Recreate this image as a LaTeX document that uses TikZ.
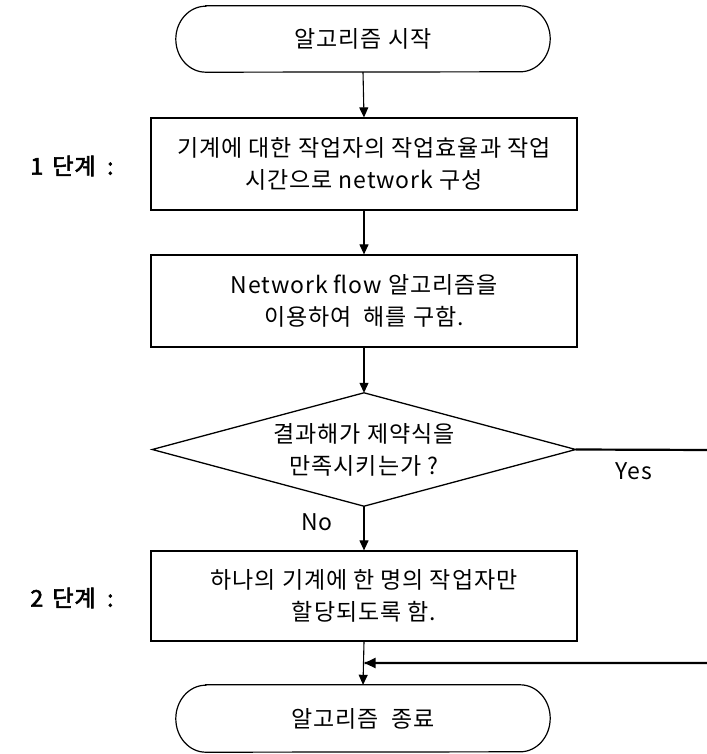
\documentclass[tikz,border=0pt]{standalone}
\usepackage{fontspec}
\setmainfont{Noto Sans CJK KR}[AutoFakeBold=2.5, LetterSpace=4]
\usetikzlibrary{arrows.meta}
\tikzset{
  box/.style={draw, line width=1.2pt, minimum width=426pt, inner sep=0pt, align=center, font=\fontsize{23}{32}\selectfont},
  term/.style={minimum width=374pt, minimum height=66pt, inner sep=0pt, font=\fontsize{23}{32}\selectfont},
  flow/.style={line width=1.1pt, -{Triangle[length=10pt,width=9pt]}},
  thick line/.style={line width=2.2pt},
  lbl/.style={font=\fontsize{23}{26}\selectfont},
  steplbl/.style={font=\bfseries\fontsize{23}{26}\selectfont}
}
\begin{document}
\begin{tikzpicture}[x=1pt,y=-1pt]
\useasboundingbox (0,0) rectangle (706,754);
% start terminal
\node[term] (start) at (363,39) {알고리즘 시작};
\draw[line width=1.2pt] ([xshift=30pt]start.north west) -- ([xshift=-30pt]start.north east)
  arc[start angle=90,end angle=-90,x radius=30pt,y radius=33pt]
  -- ([xshift=30pt]start.south west)
  arc[start angle=270,end angle=90,x radius=30pt,y radius=33pt] -- cycle;
% box 1
\node[box, minimum height=92pt] (b1) at (364,164) {기계에 대한 작업자의 작업효율과 작업\\시간으로 network 구성};
% box 2
\node[box, minimum height=92pt] (b2) at (364,301) {Network flow 알고리즘을\\이용하여 \ 해를 구함.};
% decision
\node[minimum width=423pt, minimum height=113pt, inner sep=0pt, align=center, font=\fontsize{23}{32}\selectfont] (dec) at (364,449.5) {결과해가 제약식을\\만족시키는가 ?};
\draw[line width=1.3pt] (dec.north) -- (dec.east) -- (dec.south) -- (dec.west) -- cycle;
% box 3
\node[box, minimum height=90pt] (b3) at (364,596) {하나의 기계에 한 명의 작업자만\\할당되도록 함.};
% end terminal
\node[term, minimum height=67pt] (end) at (363,718.5) {알고리즘 \ 종료};
\draw[line width=1.2pt] ([xshift=30pt]end.north west) -- ([xshift=-30pt]end.north east)
  arc[start angle=90,end angle=-90,x radius=30pt,y radius=33.5pt]
  -- ([xshift=30pt]end.south west)
  arc[start angle=270,end angle=90,x radius=30pt,y radius=33.5pt] -- cycle;
% step labels
\node[steplbl] (s1) at (72,166) {1\hspace{0.4em}단계\hspace{0.5em}:};
\node[steplbl] (s2) at (72,598) {2\hspace{0.4em}단계\hspace{0.5em}:};
% connectors
\draw[flow] (start.south) -- (b1.north);
\draw[flow] (b1.south) -- (b2.north);
\draw[flow] (b2.south) -- (dec.north);
\draw[flow] (dec.south) -- (b3.north);
\node[lbl] (no) at (317,522) {No};
\draw[flow] (b3.south) -- (end.north);
\coordinate (yesR) at (712,450);
\coordinate (retR) at (712,663);
\coordinate (join) at (364,663);
\draw[thick line] (dec.east) -- (yesR) -- (retR) -- ([xshift=0.5pt]join);
\draw[line width=2.2pt, -{Triangle[length=11pt,width=10pt]}] ([xshift=40pt]join) -- ([xshift=0.5pt]join);
\node[lbl] (yes) at (634,471) {Yes};
\end{tikzpicture}
\end{document}
